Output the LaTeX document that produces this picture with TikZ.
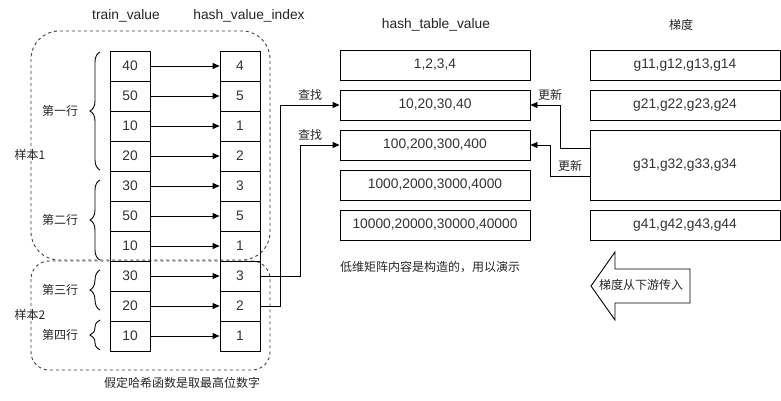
\documentclass[tikz,border=0pt]{standalone}
\usepackage{fontspec}
\setmainfont{Liberation Sans}
\newfontfamily\cjk{Noto Sans CJK SC}
\usetikzlibrary{arrows.meta,decorations.pathreplacing,calc}
\tikzset{
  cell/.style={draw, line width=0.9pt, minimum width=40pt, minimum height=30pt, inner sep=0pt, font=\fontsize{13.8}{16}\selectfont, text=black!80},
  tbox/.style={draw, line width=0.9pt, minimum width=190pt, minimum height=30pt, inner sep=0pt, font=\fontsize{13.8}{16}\selectfont, text=black!80},
  lab/.style={inner sep=0pt, font=\fontsize{13.8}{16}\selectfont, text=black!85},
  clab/.style={inner sep=0pt, font=\cjk\fontsize{12}{14}\selectfont, text=black!85},
  arr/.style={line width=0.9pt, -{Triangle[length=7pt,width=6pt]}},
  conn/.style={line width=0.9pt},
  samp/.style={draw=black!75, line width=0.9pt, dash pattern=on 3pt off 3pt},
  brc/.style={line width=0.9pt, decorate, decoration={brace, amplitude=10pt}},
}
\begin{document}
\begin{tikzpicture}[x=1pt,y=-1pt]
\useasboundingbox (0,0) rectangle (781,401);
\fill[white] (0,0) rectangle (781,401);

% sample regions
\draw[samp, rounded corners=28pt] (31,31) rectangle (270,260);
\draw[samp, rounded corners=18pt] (31,261) rectangle (270,370);
\node[clab] (s1) at (30,155) {样本1};
\node[clab] (s2) at (30,315) {样本2};

% headers
\node[lab] (htv) at (126,16) {train\_value};
\node[lab] (hhi) at (249,16) {hash\_value\_index};
\node[lab] (hht) at (436,25) {hash\_table\_value};
\node[clab] (hgr) at (681,25) {梯度};

% cells
\foreach \i/\t/\h in {1/40/4,2/50/5,3/10/1,4/20/2,5/30/3,6/50/5,7/10/1,8/30/3,9/20/2,10/10/1}{
  \node[cell] (t\i) at (130,{66+30*(\i-1)}) {\t};
  \node[cell] (h\i) at (240,{66+30*(\i-1)}) {\h};
  \draw[arr] (t\i.east) -- (h\i.west);
}

% braces
\draw[brc] (100,170) -- (100,52);
\draw[brc] (100,260) -- (100,180);
\draw[brc] (100,310) -- (100,270);
\draw[brc] (100,350) -- (100,320);
\node[clab] (r1) at (60,111) {第一行};
\node[clab] (r2) at (60,220) {第二行};
\node[clab] (r3) at (60,290) {第三行};
\node[clab] (r4) at (60,335) {第四行};

\node[clab] (cap) at (182,383) {假定哈希函数是取最高位数字};

% hash table
\node[tbox] (ht1) at (435,65) {1,2,3,4};
\node[tbox] (ht2) at (435,105) {10,20,30,40};
\node[tbox] (ht3) at (435,145) {100,200,300,400};
\node[tbox] (ht4) at (435,185) {1000,2000,3000,4000};
\node[tbox] (ht5) at (435,225) {10000,20000,30000,40000};
\node[clab, anchor=west] (note) at (340,267) {低维矩阵内容是构造的，用以演示};

% gradients
\node[tbox] (g1) at (685,65) {g11,g12,g13,g14};
\node[tbox] (g2) at (685,105) {g21,g22,g23,g24};
\node[tbox, minimum height=70pt] (g3) at (685,165) {g31,g32,g33,g34};
\node[tbox] (g4) at (685,225) {g41,g42,g43,g44};

% lookup connectors
\draw[arr] (h8.east) -- ++(40,0) |- (ht3.west);
\draw[arr] (h9.east) -- ++(20,0) |- (ht2.west);
\node[clab] (q1) at (310,95) {查找};
\node[clab] (q2) at (310,135) {查找};

% update connectors
\draw[arr] ([yshift=17pt]g3.west) -- ++(-29,0) |- (ht2.east);
\draw[arr] ([yshift=-11pt]g3.west) -- ++(-39,0) |- (ht3.east);
\node[clab] (u1) at (550,95) {更新};
\node[clab] (u2) at (570,166) {更新};

% big arrow
\draw[line width=0.9pt] (591,286) -- (615,252) -- (615,269) -- (690,269) -- (690,303) -- (615,303) -- (615,320) -- cycle;
\node[clab] (ga) at (641,285) {梯度从下游传入};
\end{tikzpicture}
\end{document}
